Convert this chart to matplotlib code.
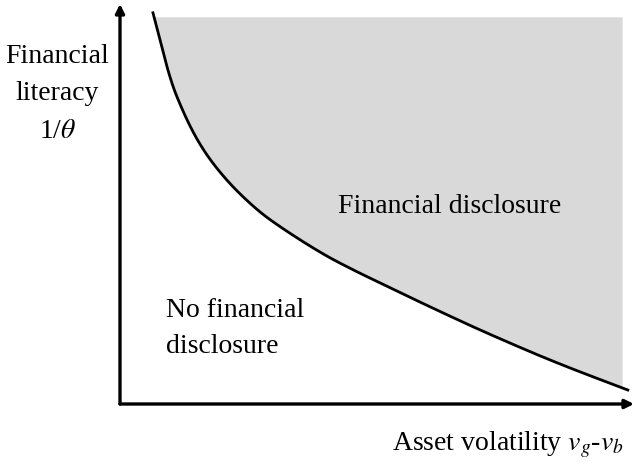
import numpy as np
import matplotlib
matplotlib.use('Agg')
import matplotlib.pyplot as plt

plt.rcParams['font.family'] = ['Liberation Serif', 'DejaVu Serif']
plt.rcParams['mathtext.fontset'] = 'stix'

# boundary curve between the two regions
vol = [0.64, 0.78, 0.91, 1.03, 1.13, 1.30, 1.50, 1.75, 2.10, 2.45, 2.78,
       3.11, 3.44, 3.75, 4.08, 4.41, 4.72, 5.05, 5.69, 6.35, 6.99, 7.90,
       8.54, 9.18, 9.86]
lit = [9.78, 9.10, 8.43, 7.93, 7.60, 7.10, 6.60, 6.10, 5.55, 5.10, 4.73,
       4.43, 4.15, 3.90, 3.65, 3.43, 3.23, 3.03, 2.63, 2.23, 1.85, 1.34,
       1.00, 0.68, 0.35]
shade_top = 9.68
shade_right = 9.75


def smooth(px, py, n=30):
    # quadratic bezier pieces: points as control points, midpoints as anchors
    px = np.asarray(px)
    py = np.asarray(py)
    mx = np.r_[px[0], (px[1:-2] + px[2:-1]) / 2, px[-1]]
    my = np.r_[py[0], (py[1:-2] + py[2:-1]) / 2, py[-1]]
    t = np.linspace(0, 1, n)[:, None]
    outx, outy = [], []
    for i in range(len(mx) - 1):
        cx, cy = px[i + 1], py[i + 1]
        bx = (1 - t) ** 2 * mx[i] + 2 * (1 - t) * t * cx + t ** 2 * mx[i + 1]
        by = (1 - t) ** 2 * my[i] + 2 * (1 - t) * t * cy + t ** 2 * my[i + 1]
        outx.append(bx.ravel())
        outy.append(by.ravel())
    return np.concatenate(outx), np.concatenate(outy)


fig = plt.figure(figsize=(6.35, 4.68), dpi=100)
ax = fig.add_axes([0, 0, 1, 1])
ax.set_xlim(-2.33, 10.0)
ax.set_ylim(-1.6, 10.1)
ax.axis('off')

cx, cy = smooth(vol, lit)
xs = np.linspace(cx.min(), shade_right, 800)
ys = np.interp(xs, cx, cy)
mask = ys <= shade_top
ax.fill_between(xs[mask], ys[mask], shade_top, color='#d9d9d9', lw=0)

ax.plot(cx, cy, color='black', lw=2.0, solid_joinstyle='round')

# axes arrows
arrow = dict(arrowstyle='-|>', lw=2.4, color='black', mutation_scale=13,
             shrinkA=0, shrinkB=0)
ax.annotate('', xy=(9.98, 0), xytext=(0, 0), arrowprops=arrow)
ax.annotate('', xy=(0, 10.0), xytext=(0, 0), arrowprops=arrow)

fs = 20
ax.text(-1.22, 7.75, 'Financial\nliteracy\n1/$\\theta$', ha='center', va='center',
        fontsize=fs, linespacing=1.64)
ax.text(6.41, 4.93, 'Financial disclosure', ha='center', va='center', fontsize=fs)
ax.text(0.89, 1.89, 'No financial\ndisclosure', ha='left', va='center', fontsize=fs,
        linespacing=1.58)
ax.text(9.78, -1.03, 'Asset volatility $v_g$-$v_b$', ha='right', va='center', fontsize=fs)

fig.savefig('out.png', dpi=100)
